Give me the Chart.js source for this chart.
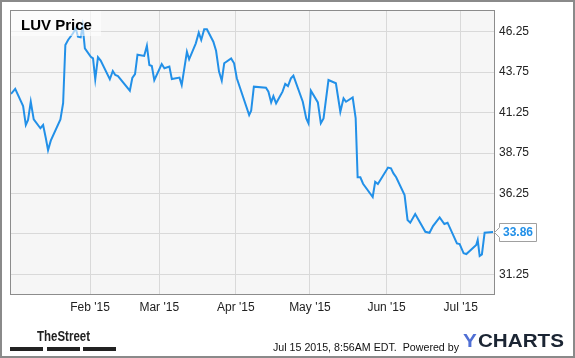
<!DOCTYPE html>
<html><head><meta charset="utf-8">
<script src="https://cdn.jsdelivr.net/npm/chart.js@4.4.0/dist/chart.umd.min.js"></script>
<style>html,body{margin:0;padding:0;background:#fff;overflow:hidden}#wrap{width:575px;height:358px;position:relative}canvas{display:block}</style>
</head><body><div id="wrap"><canvas id="c" width="575" height="358"></canvas></div>
<script>
// days since Jan 1 2015
const days = [-1.0,0.7,3.9,5.0,5.9,7.0,8.2,10.9,12.0,13.1,14.0,15.1,19.0,20.1,21.0,22.1,24.1,25.2,26.1,27.2,28.0,28.9,31.3,32.2,33.1,34.2,35.3,39.0,40.2,41.2,42.3,47.1,48.1,49.2,50.2,52.9,54.0,55.0,56.0,57.0,60.0,61.1,63.1,64.1,67.2,68.1,70.2,71.1,73.8,75.0,76.0,77.2,78.3,80.9,82.0,83.2,84.3,85.3,88.1,89.3,90.4,95.4,96.2,97.3,102.2,103.2,104.3,105.2,106.3,108.9,110.0,111.1,112.3,113.3,117.1,118.5,119.4,120.4,123.2,124.4,125.5,127.5,130.5,132.3,133.6,134.6,137.3,138.5,139.3,140.4,141.5,145.4,146.4,147.5,151.6,152.8,153.8,154.9,158.3,159.5,160.6,162.6,166.7,168.4,169.8,172.5,174.4,175.7,179.5,180.6,182.2,183.3,187.3,187.9,188.7,189.6,190.7,194.1];
const prices = [42.40,42.71,41.65,40.48,40.79,41.92,40.83,40.28,40.48,39.66,38.93,39.51,40.83,41.84,45.43,45.74,46.15,46.46,45.94,45.90,46.60,45.22,44.70,44.60,43.31,44.67,44.46,43.31,43.82,43.57,43.51,42.60,43.39,43.63,44.83,44.75,45.38,44.19,44.13,43.26,44.25,43.99,44.09,43.32,43.41,42.95,45.01,44.54,45.53,46.19,45.74,46.40,46.40,45.63,45.07,43.78,43.22,44.30,44.60,44.30,43.37,41.10,41.36,42.85,42.79,42.54,41.88,42.27,41.82,42.54,43.02,42.89,43.37,43.53,41.92,40.89,40.59,42.60,41.88,40.59,40.89,43.26,43.06,41.30,42.13,41.92,42.18,40.91,37.25,37.25,36.85,36.03,36.97,36.83,37.85,37.80,37.49,37.25,36.15,34.61,34.44,34.98,33.88,33.82,34.23,34.77,34.36,34.44,33.16,33.12,32.55,32.50,33.06,33.37,32.38,32.48,33.82,33.86];
const monthTicks = [31,59,90,120,151,181];
const monthLabels = ["Feb '15","Mar '15","Apr '15","May '15","Jun '15","Jul '15"];
const priceTicks = [31.25,33.75,36.25,38.75,41.25,43.75,46.25];
const titleText = "LUV Price";
const lastLabel = "33.86";
const footerText = "Jul 15 2015, 8:56AM EDT.  Powered by";
const brandLeft = "TheStreet";
const brandRight = ["Y","CHARTS"];

const FONT = "'Liberation Sans', Arial, sans-serif";
const LINE = '#2290e8';

function fitText(ctx, text, x, y, width) {
  const w = ctx.measureText(text).width;
  ctx.save();
  ctx.translate(x, y);
  ctx.scale(width / w, 1);
  ctx.fillText(text, 0, 0);
  ctx.restore();
}

const decor = {
  id: 'decor',
  beforeDraw(chart) {
    const ctx = chart.ctx, a = chart.chartArea;
    ctx.save();
    ctx.fillStyle = '#fff';
    ctx.fillRect(0, 0, chart.width, chart.height);
    ctx.fillStyle = '#f6f6f6';
    ctx.fillRect(a.left, a.top, a.right - a.left, a.bottom - a.top);
    ctx.restore();
  },
  afterDatasetsDraw(chart) {
    const ctx = chart.ctx, a = chart.chartArea;
    ctx.save();
    // plot frame
    ctx.strokeStyle = '#8c8c8c';
    ctx.lineWidth = 1;
    ctx.strokeRect(a.left - 0.5, a.top - 0.5, a.right - a.left, a.bottom - a.top);
    // title box
    ctx.fillStyle = 'rgba(255,255,255,0.6)';
    ctx.fillRect(a.left, a.top, 90, 25);
    ctx.fillStyle = '#000';
    ctx.font = 'bold 15px ' + FONT;
    ctx.textBaseline = 'alphabetic';
    ctx.textAlign = 'left';
    ctx.fillText(titleText, 21, 30);
    // last value label
    const ys = chart.scales.y;
    const py = Math.round(ys.getPixelForValue(prices[prices.length - 1])) + 0.5;
    const bx = 499.5, bw = 37, bh = 18;
    ctx.beginPath();
    ctx.moveTo(a.right - 0.5, py);
    ctx.lineTo(bx, py - 5);
    ctx.lineTo(bx, py - bh / 2);
    ctx.lineTo(bx + bw, py - bh / 2);
    ctx.lineTo(bx + bw, py + bh / 2);
    ctx.lineTo(bx, py + bh / 2);
    ctx.lineTo(bx, py + 5);
    ctx.closePath();
    ctx.fillStyle = '#fff';
    ctx.fill();
    ctx.strokeStyle = '#a0a0a0';
    ctx.stroke();
    ctx.fillStyle = LINE;
    ctx.font = 'bold 12px ' + FONT;
    ctx.textAlign = 'center';
    ctx.textBaseline = 'middle';
    ctx.fillText(lastLabel, bx + bw / 2, py + 0.5);
    // footer text
    ctx.fillStyle = '#111';
    ctx.font = '11px ' + FONT;
    ctx.textAlign = 'left';
    ctx.textBaseline = 'alphabetic';
    fitText(ctx, footerText, 273, 351, 186);
    // TheStreet logo
    ctx.font = 'bold 15px ' + FONT;
    ctx.fillStyle = '#222';
    fitText(ctx, brandLeft, 37, 341, 53);
    ctx.fillRect(10, 347, 33, 4);
    ctx.fillRect(47, 347, 33, 4);
    ctx.fillRect(83, 347, 33, 4);
    // YCHARTS logo
    ctx.font = 'bold 18px ' + FONT;
    const wy = ctx.measureText(brandRight[0]).width;
    const wc = ctx.measureText(brandRight[1]).width;
    const sx = 101 / (wy + wc + 1);
    ctx.save();
    ctx.translate(463, 347);
    ctx.scale(sx, 1);
    ctx.fillStyle = '#4f6fd4';
    ctx.fillText(brandRight[0], 0, 0);
    ctx.fillStyle = '#1b2533';
    ctx.fillText(brandRight[1], wy + 1, 0);
    ctx.restore();
    // outer border
    ctx.strokeStyle = '#8a8a8a';
    ctx.lineWidth = 2;
    ctx.strokeRect(1, 1, chart.width - 2, chart.height - 2);
    ctx.restore();
  }
};

const points = days.map((d, i) => ({x: d, y: prices[i]}));

new Chart(document.getElementById('c'), {
  type: 'line',
  data: { datasets: [{ data: points, borderColor: LINE, borderWidth: 2, pointRadius: 0, tension: 0, fill: false }] },
  options: {
    responsive: false, animation: false, devicePixelRatio: 1,
    layout: { padding: { left: 11, top: 11, right: 0, bottom: 0 } },
    plugins: { legend: { display: false }, tooltip: { enabled: false } },
    scales: {
      x: {
        type: 'linear', min: -1, max: 194.9,
        afterBuildTicks(s) { s.ticks = monthTicks.map(v => ({ value: v })); },
        afterFit(s) { s.height = 63; s.paddingLeft = 0; s.paddingRight = 0; },
        grid: { color: '#d9d9d9', drawTicks: false, lineWidth: 1 },
        border: { display: false },
        ticks: { autoSkip: false, maxRotation: 0, padding: 5, color: '#222',
          font: { family: FONT, size: 12 },
          callback(v) { const i = monthTicks.indexOf(v); return i >= 0 ? monthLabels[i] : ''; } }
      },
      y: {
        position: 'right', min: 29.97, max: 47.53,
        afterBuildTicks(s) { s.ticks = priceTicks.map(v => ({ value: v })); },
        afterFit(s) { s.width = 80; s.paddingTop = 0; s.paddingBottom = 0; },
        grid: { color: '#d9d9d9', drawTicks: false, lineWidth: 1 },
        border: { display: false },
        ticks: { padding: 4, color: '#222', font: { family: FONT, size: 12 },
          callback(v) { return Number(v).toFixed(2); } }
      }
    }
  },
  plugins: [decor]
});
</script></body></html>
